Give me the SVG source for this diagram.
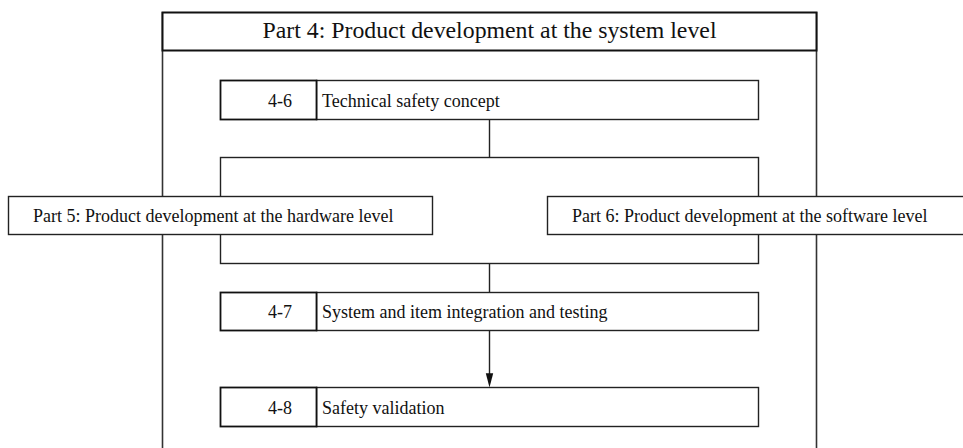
<svg xmlns="http://www.w3.org/2000/svg" width="963" height="448" viewBox="0 0 963 448">
<style>
.t{font-family:"Liberation Serif","Times New Roman",serif;font-size:18px;fill:#111}
.title{font-family:"Liberation Serif","Times New Roman",serif;font-size:23.8px;fill:#111}
.box{fill:#fff;stroke:#222;stroke-width:1.4}
.num{fill:#fff;stroke:#111;stroke-width:1.8}
.ln{fill:none;stroke:#222;stroke-width:1.4}
.frame{fill:none;stroke:#333;stroke-width:1.6}
</style>
<g id="frame">
<line class="frame" x1="162.5" y1="12" x2="162.5" y2="448"/>
<line class="frame" x1="816.5" y1="12" x2="816.5" y2="448"/>
<rect x="162.5" y="12.5" width="654" height="38" fill="#fff" stroke="#111" stroke-width="2"/>
<text class="title" x="489.5" y="38" text-anchor="middle">Part 4: Product development at the system level</text>
</g>
<g id="connectors">
<line class="ln" x1="489.5" y1="119.5" x2="489.5" y2="157.5"/>
<rect class="ln" x="220.5" y="157.5" width="538" height="106"/>
<line class="ln" x1="489.5" y1="263.5" x2="489.5" y2="292.5"/>
<line class="ln" x1="489.5" y1="330.5" x2="489.5" y2="374"/>
<path d="M485.8,373.3 L493.2,373.3 L489.5,387.5 Z" fill="#111"/>
</g>
<g id="n46">
<rect class="box" x="316.5" y="80.5" width="442" height="39"/>
<rect class="num" x="220.5" y="80.5" width="96" height="39"/>
<text class="t" x="280" y="106.5" text-anchor="middle">4-6</text>
<text class="t" x="322" y="106.5">Technical safety concept</text>
</g>
<g id="p5">
<rect class="box" x="8.5" y="196.5" width="424" height="38"/>
<text class="t" x="33" y="222">Part 5: Product development at the hardware level</text>
</g>
<g id="p6">
<rect class="box" x="547.5" y="196.5" width="430" height="38"/>
<text class="t" x="572" y="222">Part 6: Product development at the software level</text>
</g>
<g id="n47">
<rect class="box" x="316.5" y="292.5" width="442" height="38"/>
<rect class="num" x="220.5" y="292.5" width="96" height="38"/>
<text class="t" x="280" y="318" text-anchor="middle">4-7</text>
<text class="t" x="322" y="318">System and item integration and testing</text>
</g>
<g id="n48">
<rect class="box" x="316.5" y="387.5" width="442" height="39"/>
<rect class="num" x="220.5" y="387.5" width="96" height="39"/>
<text class="t" x="280" y="413.5" text-anchor="middle">4-8</text>
<text class="t" x="322" y="413.5">Safety validation</text>
</g>
</svg>
